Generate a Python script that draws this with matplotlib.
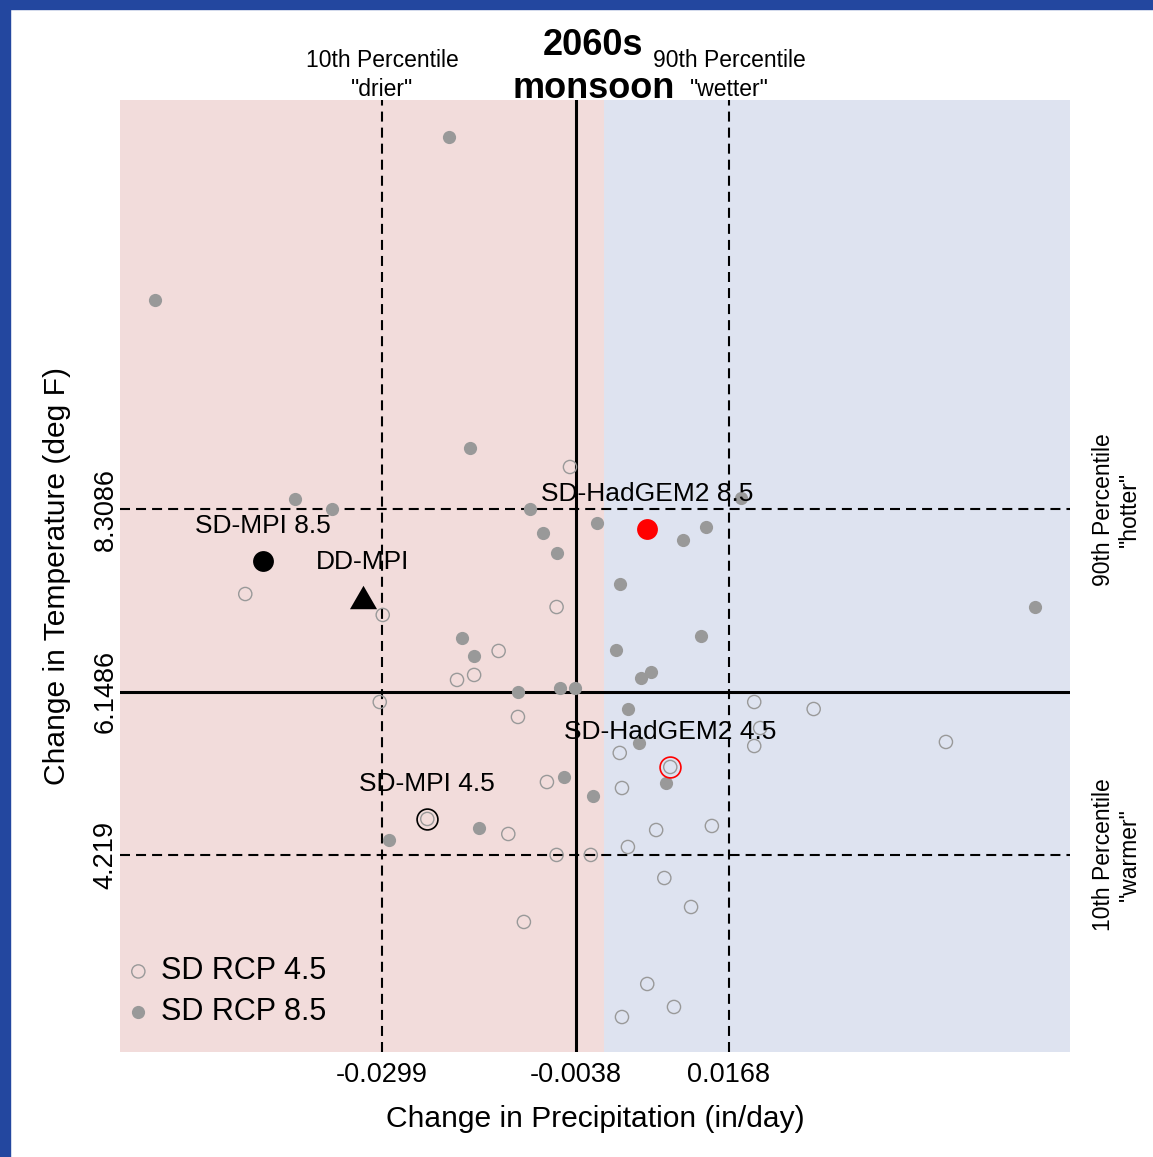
import numpy as np
import matplotlib
matplotlib.use("Agg")
import matplotlib.pyplot as plt
from matplotlib.patches import Rectangle

plt.rcParams['font.family'] = ['Liberation Sans', 'DejaVu Sans']

# ---- data ----
# SD RCP 4.5 ensemble (open circles)
rcp45_precip = [-0.0046, -0.0483, -0.0298, -0.0064, -0.0142, -0.0175, -0.0198, -0.0302,
                -0.0116, 0.0202, 0.0282, 0.0460, 0.0202, 0.0210, 0.0021, 0.0089,
                0.0024, -0.0077, -0.0238, -0.0129, 0.0070, 0.0145, 0.0032, -0.0064,
                -0.0018, 0.0081, 0.0117, -0.0108, 0.0058, 0.0094, 0.0024]
rcp45_temp = [8.809, 7.306, 7.058, 7.152, 6.632, 6.348, 6.289, 6.028,
              5.851, 6.028, 5.945, 5.555, 5.507, 5.720, 5.425, 5.259,
              5.010, 5.081, 4.644, 4.466, 4.513, 4.561, 4.312, 4.218,
              4.218, 3.945, 3.602, 3.425, 2.691, 2.419, 2.300]

# SD RCP 8.5 ensemble (filled circles)
rcp85_precip = [-0.0209, -0.0605, -0.0181, -0.0416, -0.0366, -0.0100, -0.0082, -0.0064,
                -0.0010, 0.0184, 0.0137, 0.0106, 0.0021, 0.0580, 0.0130, 0.0016,
                0.0050, 0.0063, -0.0191, -0.0175, -0.0116, -0.0059, -0.0039, 0.0032,
                0.0047, -0.0054, -0.0015, 0.0083, -0.0168, -0.0290, -0.0459, 0.0058]
rcp85_temp = [12.714, 10.786, 9.034, 8.431, 8.312, 8.312, 8.028, 7.791,
              8.147, 8.442, 8.099, 7.945, 7.425, 7.152, 6.809, 6.644,
              6.312, 6.383, 6.786, 6.573, 6.147, 6.194, 6.194, 5.945,
              5.543, 5.141, 4.916, 5.070, 4.537, 4.395, 7.697, 8.076]

# highlighted models
model_names = ["SD-MPI 8.5", "DD-MPI", "SD-HadGEM2 8.5", "SD-MPI 4.5", "SD-HadGEM2 4.5"]
model_precip = [-0.0459, -0.0325, 0.0058, -0.0238, 0.0089]
model_temp = [7.697, 7.271, 8.076, 4.644, 5.259]

# percentiles (10th, median, 90th)
precip_pct = [-0.0299, -0.0038, 0.0168]
precip_pct_labels = ["-0.0299", "-0.0038", "0.0168"]
temp_pct = [4.219, 6.1486, 8.3086]
temp_pct_labels = ["4.219", "6.1486", "8.3086"]

xlim = (-0.06516, 0.0627)
ylim = (1.886, 13.152)

W, H = 1153, 1157
PINK = '#f2dcdb'
BLUE = '#dee3f0'
GRAY = '#999999'

fig = plt.figure(figsize=(W / 100, H / 100), dpi=100)
ax = fig.add_axes([120 / W, 105 / H, 950 / W, 952 / H])
ax.set_xlim(*xlim)
ax.set_ylim(*ylim)
for s in ax.spines.values():
    s.set_visible(False)

# drier / wetter halves
ax.axvspan(xlim[0], 0, color=PINK, lw=0, zorder=0)
ax.axvspan(0, xlim[1], color=BLUE, lw=0, zorder=0)

# percentile lines
dash = (0, (4.8, 2.9))
ax.axvline(precip_pct[0], color='black', lw=1.5, ls=dash, zorder=1)
ax.axvline(precip_pct[2], color='black', lw=1.5, ls=dash, zorder=1)
ax.axvline(precip_pct[1], color='black', lw=2.2, zorder=1)
ax.axhline(temp_pct[0], color='black', lw=1.5, ls=dash, zorder=1)
ax.axhline(temp_pct[2], color='black', lw=1.5, ls=dash, zorder=1)
ax.axhline(temp_pct[1], color='black', lw=2.2, zorder=1)

# ensembles
h45 = ax.scatter(rcp45_precip, rcp45_temp, s=9.5**2, facecolors='none',
                 edgecolors=GRAY, linewidths=1.0, zorder=3, label='SD RCP 4.5')
h85 = ax.scatter(rcp85_precip, rcp85_temp, s=9.5**2, color=GRAY, lw=0,
                 zorder=3, label='SD RCP 8.5')

# highlighted models
tri = [(-1, -0.865), (1, -0.865), (0, 0.865)]
ax.plot(model_precip[0], model_temp[0], 'o', ms=15, color='black', mew=0, zorder=4)
ax.plot(model_precip[1], model_temp[1], marker=tri, ms=19.5, color='black', mew=0, ls='none', zorder=4)
ax.plot(model_precip[2], model_temp[2], 'o', ms=15, color='red', mew=0, zorder=4)
ax.plot(model_precip[3], model_temp[3], 'o', ms=15, mfc='none', mec='black', mew=1.2, zorder=4)
ax.plot(model_precip[4], model_temp[4], 'o', ms=15, mfc='none', mec='red', mew=1.2, zorder=4)

for name, x, y in zip(model_names, model_precip, model_temp):
    ax.annotate(name, (x, y), xytext=(0, 20), textcoords='offset points',
                ha='center', va='baseline', fontsize=19, zorder=5)

# ticks
ax.set_xticks(precip_pct)
ax.set_xticklabels(precip_pct_labels, fontsize=19.5)
ax.set_yticks(temp_pct)
ax.set_yticklabels(temp_pct_labels, fontsize=19.5, rotation=90, va='center')
ax.tick_params(axis='both', direction='in', length=6.5, width=1.2, color='black')
ax.tick_params(axis='x', pad=7.5)
ax.tick_params(axis='y', pad=1)

# axis titles
fig.text(595 / W, 1 - 1119 / H, 'Change in Precipitation (in/day)', fontsize=21.6,
         ha='center', va='center')
fig.text(57 / W, 1 - 576 / H, 'Change in Temperature (deg F)', fontsize=21.6,
         ha='center', va='center', rotation=90)

# title
fig.text(593 / W, 1 - 55 / H, '2060s', fontsize=26, fontweight='bold', ha='center', va='baseline')
fig.text(594 / W, 1 - 98 / H, 'monsoon', fontsize=26, fontweight='bold', ha='center', va='baseline')

# percentile notes
top = ax.get_xaxis_transform()
ax.text(precip_pct[0], (1052 - 67) / 952, '10th Percentile', transform=top, fontsize=16.5,
        ha='center', va='baseline')
ax.text(precip_pct[0], (1052 - 96) / 952, '"drier"', transform=top, fontsize=16.5,
        ha='center', va='baseline')
ax.text(precip_pct[2], (1052 - 67) / 952, '90th Percentile', transform=top, fontsize=16.5,
        ha='center', va='baseline')
ax.text(precip_pct[2], (1052 - 96) / 952, '"wetter"', transform=top, fontsize=16.5,
        ha='center', va='baseline')
side = ax.get_yaxis_transform()
ax.text((1103 - 120) / 950, temp_pct[2], '90th Percentile', transform=side, fontsize=16.5,
        ha='center', va='center', rotation=90)
ax.text((1129 - 120) / 950, temp_pct[2], '"hotter"', transform=side, fontsize=16.5,
        ha='center', va='center', rotation=90)
ax.text((1103 - 120) / 950, temp_pct[0], '10th Percentile', transform=side, fontsize=16.5,
        ha='center', va='center', rotation=90)
ax.text((1129 - 120) / 950, temp_pct[0], '"warmer"', transform=side, fontsize=16.5,
        ha='center', va='center', rotation=90)

ax.legend(handles=[h45, h85], loc='lower left', bbox_to_anchor=(0.0, 0.020),
          frameon=False, fontsize=22, handlelength=0.8, handletextpad=0.35,
          labelspacing=0.34, borderpad=0.2, borderaxespad=0)

# blue frame (top and left)
fig.patches.append(Rectangle((0, 1 - 9 / H), 1, 9 / H, transform=fig.transFigure,
                             color='#23479f', zorder=10))
fig.patches.append(Rectangle((0, 0), 10 / W, 1, transform=fig.transFigure,
                             color='#23479f', zorder=10))

fig.savefig('out.png', dpi=100)
